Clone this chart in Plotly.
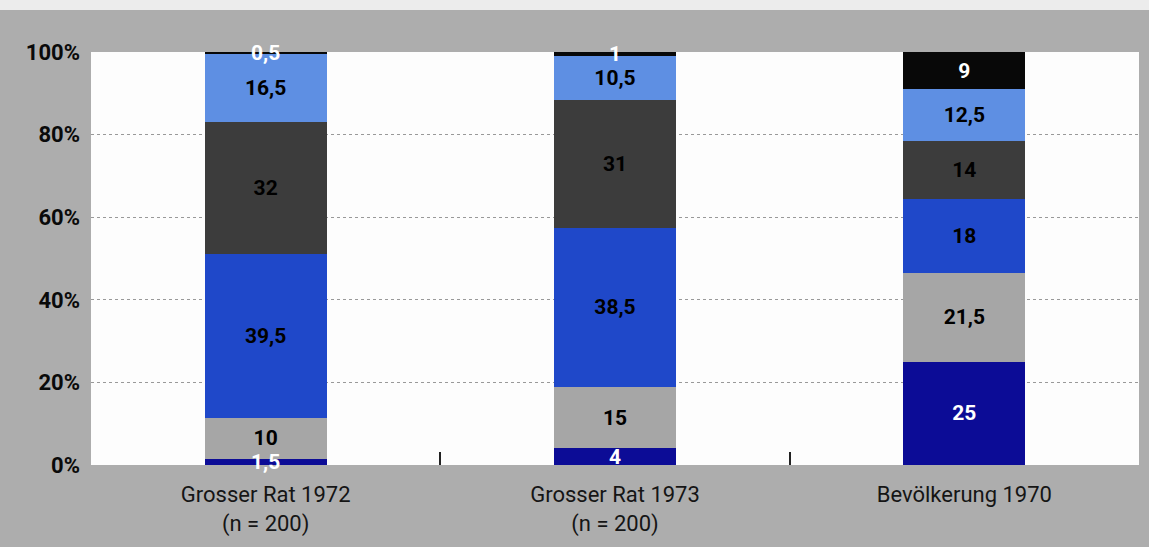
import plotly.graph_objects as go

categories = ["Grosser Rat 1972<br>(n = 200)", "Grosser Rat 1973<br>(n = 200)", "Bevölkerung 1970"]

# stacked shares, bottom to top
seg1 = [1.5, 4, 25]
seg2 = [10, 15, 21.5]
seg3 = [39.5, 38.5, 18]
seg4 = [32, 31, 14]
seg5 = [16.5, 10.5, 12.5]
seg6 = [0.5, 1, 9]

series = [seg1, seg2, seg3, seg4, seg5, seg6]
colors = ["#0c0c96", "#a6a6a6", "#1f48c9", "#3c3c3c", "#5e8fe3", "#080808"]
text_colors = ["#ffffff", "#000000", "#000000", "#000000", "#000000", "#ffffff"]

y_ticks = [0, 20, 40, 60, 80, 100]
y_ticktext = [f"{v}%" for v in y_ticks]

FONT = "Roboto, Liberation Sans, Arial, sans-serif"

def fmt(v):
    s = f"{v:g}"
    return s.replace(".", ",")

fig = go.Figure()
# coloured stacks
for vals, col in zip(series, colors):
    fig.add_trace(go.Bar(
        x=categories, y=vals,
        marker=dict(color=col, line=dict(width=0)),
        hoverinfo="skip", showlegend=False,
    ))
# identical transparent stacks on overlaid axes, carrying the value labels on top of all bars
for vals, tcol in zip(series, text_colors):
    fig.add_trace(go.Bar(
        x=categories, y=vals, xaxis="x3", yaxis="y2",
        marker=dict(color="rgba(0,0,0,0)", line=dict(width=0)),
        text=[fmt(v) for v in vals],
        textposition="inside",
        insidetextanchor="middle",
        textangle=0,
        cliponaxis=False,
        textfont=dict(family=FONT, size=21, color=tcol, weight="bold"),
        hoverinfo="skip", showlegend=False,
    ))

# helper trace for the category-boundary ticks
fig.add_trace(go.Scatter(x=[0], y=[0], xaxis="x2", yaxis="y", mode="markers",
                         marker=dict(opacity=0), showlegend=False, hoverinfo="skip"))

fig.update_layout(
    width=1149, height=547,
    barmode="stack",
    bargap=0.65,
    paper_bgcolor="#adadad",
    plot_bgcolor="#fdfdfd",
    margin=dict(l=91, r=10, t=52, b=82),
    uniformtext=dict(minsize=21, mode="show"),
    font=dict(family=FONT, color="#111111"),
    xaxis=dict(
        type="category",
        showgrid=False, showline=False, zeroline=False,
        ticks="", ticklabelstandoff=14,
        tickfont=dict(family=FONT, size=22, color="#151515"),
    ),
    xaxis2=dict(
        overlaying="x", anchor="y", side="bottom",
        range=[-0.5, 2.5],
        tickvals=[0.5, 1.5], ticks="inside", ticklen=13, tickwidth=1.5,
        tickcolor="#222222", showticklabels=False,
        showgrid=False, showline=False, zeroline=False,
    ),
    xaxis3=dict(
        type="category", overlaying="x", anchor="y2",
        showticklabels=False, ticks="", showgrid=False, showline=False, zeroline=False,
    ),
    yaxis=dict(
        range=[0, 100],
        tickmode="array", tickvals=y_ticks, ticktext=y_ticktext,
        showgrid=True, gridcolor="#999999", gridwidth=1, griddash="dot",
        zeroline=False, showline=False,
        ticks="", ticklabelstandoff=10,
        tickfont=dict(family=FONT, size=22, color="#0a0a0a", weight="bold"),
    ),
    yaxis2=dict(
        range=[0, 100], overlaying="y", anchor="x3",
        showticklabels=False, ticks="", showgrid=False, showline=False, zeroline=False,
    ),
    shapes=[dict(type="rect", xref="paper", yref="paper",
                 x0=-0.1, x1=1.02, y0=1 + 42 / 413, y1=1.2,
                 fillcolor="#ececec", line=dict(width=0), layer="below")],
)

fig.write_html("out.html", config={"displayModeBar": False},
               post_script="document.body.style.margin='0';")
